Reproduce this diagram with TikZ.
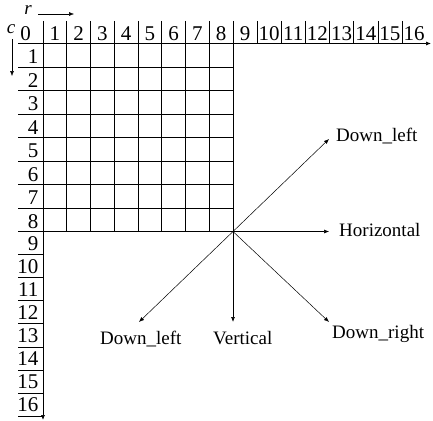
\documentclass[tikz,border=0pt]{standalone}
\usepackage{fontspec}
\setmainfont{Liberation Serif}
\usetikzlibrary{arrows.meta}
\begin{document}
\begin{tikzpicture}[x=1pt,y=-1pt,
  gridline/.style={line width=0.6pt},
  axis/.style={line width=0.7pt,-{Latex[length=5pt,width=4pt]}},
  ray/.style={line width=0.5pt,-{Latex[length=5pt,width=4pt]}},
  dig/.style={font=\fontsize{21}{22}\selectfont, inner sep=0pt},
  lab/.style={font=\fontsize{19}{20}\selectfont, inner sep=0pt, anchor=base west},
  axlab/.style={font=\fontsize{19}{20}\selectfont\itshape, inner sep=0pt},
]
\useasboundingbox (0,0) rectangle (433,420);
% grid vertical lines
\foreach \k in {1,...,8} {
  \draw[gridline] ({43+23.75*\k},21) -- ({43+23.75*\k},231.5);
}
\foreach \j in {1,...,7} {
  \draw[gridline] ({233+24.14*\j},21) -- ({233+24.14*\j},43.5);
}
% grid horizontal lines
\foreach \k in {1,...,8} {
  \draw[gridline] (18,{43.5+23.5*\k}) -- (233,{43.5+23.5*\k});
}
\foreach \j in {1,...,8} {
  \draw[gridline] (18,{231.5+23.06*\j}) -- (43,{231.5+23.06*\j});
}
% axes
\draw[axis] (18,43.5) -- (431,43.5);
\draw[axis] (43,21) -- (43,420);
% column labels
\node[dig,anchor=base] (c0) at (25.5,40.5) {0};
\foreach \k in {1,...,8} {
  \node[dig,anchor=base] (c\k) at ({43+23.75*(\k-0.5)},40.5) {\k};
}
\foreach \j [evaluate=\j as \n using int(\j+8)] in {1,...,8} {
  \node[dig,anchor=base] (c\n) at ({233+24.14*(\j-0.5)},40.5) {\n};
}
% row labels
\foreach \k in {1,...,8} {
  \node[dig,anchor=base east] (r\k) at (38.5,{43.5+23.5*\k-3.5}) {\k};
}
\foreach \j [evaluate=\j as \n using int(\j+8)] in {1,...,8} {
  \node[dig,anchor=base east] (r\n) at (38.5,{231.5+23.06*\j-4}) {\n};
}
% r and c
\node[axlab] (rl) at (28,10) {r};
\coordinate (ra) at (38,14);
\coordinate (rb) at (74,14);
\draw[ray] (ra) -- (rb);
\node[axlab] (cl) at (11,29) {c};
\coordinate (ca) at (12,39);
\coordinate (cb) at (12,76);
\draw[ray] (ca) -- (cb);
% rays
\coordinate (O) at (233,231.5);
\coordinate (ur) at (329,139);
\coordinate (hz) at (329,231.5);
\coordinate (dl) at (139,322);
\coordinate (vt) at (233,322);
\coordinate (dr) at (329,322);
\draw[ray] (O) -- (ur);
\draw[ray] (O) -- (hz);
\draw[ray] (O) -- (dl);
\draw[ray,line width=0.7pt] (O) -- (vt);
\draw[ray] (O) -- (dr);
\node[lab] (lur) at (336,141) {Down\_left};
\node[lab] (lhz) at (339,236) {Horizontal};
\node[lab] (ldl) at (100,344) {Down\_left};
\node[lab] (lvt) at (213,344) {Vertical};
\node[lab] (ldr) at (332,338) {Down\_right};
\end{tikzpicture}
\end{document}
